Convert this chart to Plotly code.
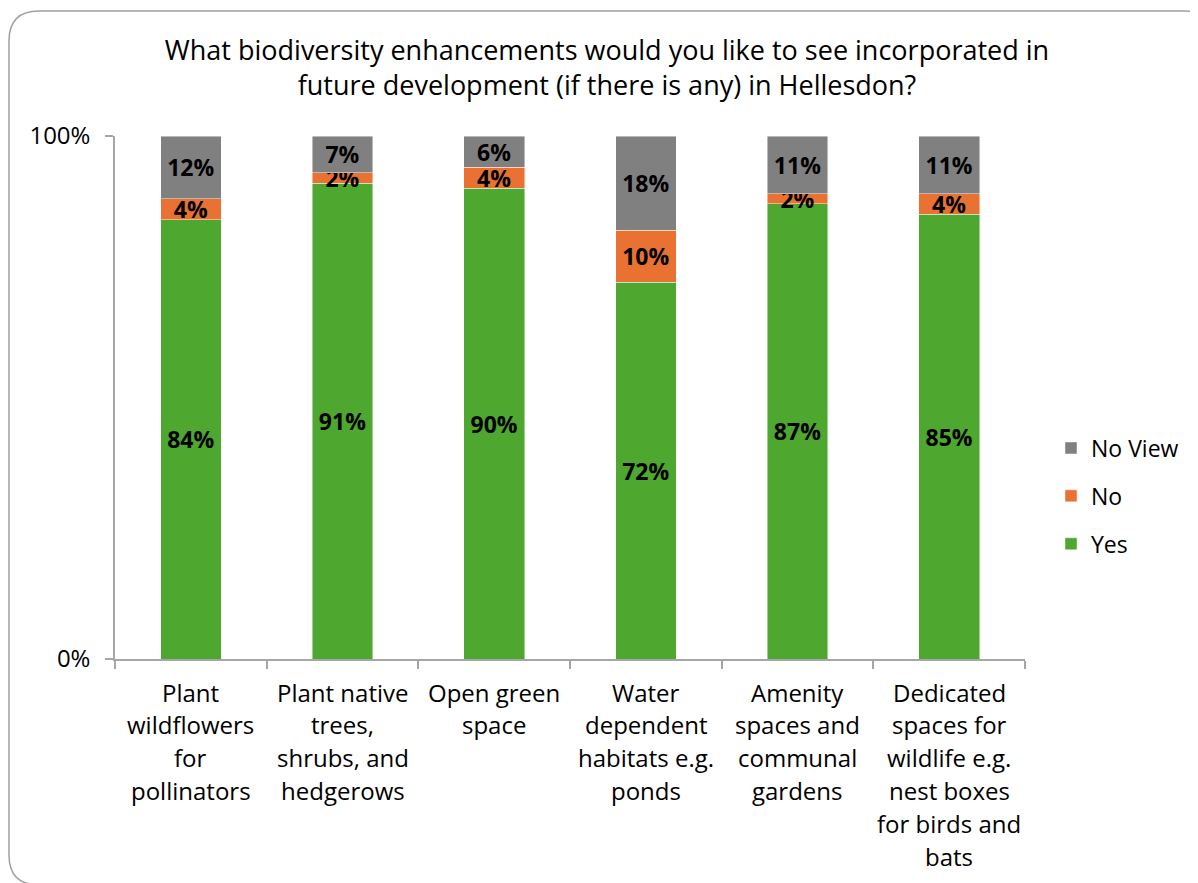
import plotly.graph_objects as go

categories = [
    "Plant<br>wildflowers<br>for<br>pollinators",
    "Plant native<br>trees,<br>shrubs, and<br>hedgerows",
    "Open green<br>space",
    "Water<br>dependent<br>habitats e.g.<br>ponds",
    "Amenity<br>spaces and<br>communal<br>gardens",
    "Dedicated<br>spaces for<br>wildlife e.g.<br>nest boxes<br>for birds and<br>bats",
]
cat_keys = ["c%d" % i for i in range(len(categories))]
yes_vals = [84, 91, 90, 72, 87, 85]
no_vals = [4, 2, 4, 10, 2, 4]
noview_vals = [12, 7, 6, 18, 11, 11]
y_ticks = [0, 100]
y_tick_labels = ["0%", "100%"]

W, H = 1198, 883
OFF = 8  # page body margin


def px(x):
    return (x - OFF) / W


def py(y):
    return 1 - (y - OFF) / H


FONT = "Open Sans"
GREEN = "#4EA72E"
ORANGE = "#E97132"
GRAY = "#808080"
AXIS = "#A6A6A6"

fig = go.Figure()
series = [("Yes", yes_vals, GREEN, 3), ("No", no_vals, ORANGE, 2), ("No View", noview_vals, GRAY, 1)]
for name, vals, col, rank in series:
    fig.add_trace(go.Bar(
        x=cat_keys, y=vals, name=name,
        marker=dict(color=col, line=dict(color="rgba(255,255,255,0.6)", width=0.75)),
        text=["%d%%" % v for v in vals],
        textposition="inside", insidetextanchor="middle",
        textangle=0, constraintext="none",
        textfont=dict(family=FONT, size=23, color="black", weight="bold"),
        legendgroup=name, legendrank=rank, hoverinfo="skip",
    ))

# category labels as annotations (Excel-like line spacing)
for key, lab in zip(cat_keys, categories):
    for j, line in enumerate(lab.split("<br>")):
        fig.add_annotation(
            x=key, xref="x", y=py(692 + j * 32.8), yref="paper",
            text=line, showarrow=False, yanchor="middle", xanchor="center",
            font=dict(family=FONT, size=24, color="black"),
        )

# rounded frame
x0, y0, x1, y1, r = 9, 11, 1216, 885, 30
path = (f"M {px(x0)},{py(y0 + r)} Q {px(x0)},{py(y0)} {px(x0 + r)},{py(y0)} "
        f"L {px(x1 - r)},{py(y0)} Q {px(x1)},{py(y0)} {px(x1)},{py(y0 + r)} "
        f"L {px(x1)},{py(y1 - r)} Q {px(x1)},{py(y1)} {px(x1 - r)},{py(y1)} "
        f"L {px(x0 + r)},{py(y1)} Q {px(x0)},{py(y1)} {px(x0)},{py(y1 - r)} Z")
fig.add_shape(type="path", path=path, xref="paper", yref="paper",
              line=dict(color="#A0A0A0", width=1.5), layer="below")

xdom = [px(115), px(1025)]
ydom = [py(659), py(136)]
n = len(categories)

fig.update_layout(
    width=W, height=H,
    margin=dict(l=0, r=0, t=0, b=0, autoexpand=False),
    paper_bgcolor="white", plot_bgcolor="white",
    barmode="stack", bargap=0.6,
    uniformtext=dict(minsize=22, mode="show"),
    title=dict(
        text="What biodiversity enhancements would you like to see incorporated in<br>future development (if there is any) in Hellesdon?",
        x=px(607), xanchor="center", y=py(60), yanchor="middle",
        font=dict(family=FONT, size=27, color="black"),
    ),
    xaxis=dict(
        domain=xdom, automargin=False,
        showticklabels=False, tickson="boundaries", ticks="outside", ticklen=8,
        tickcolor=AXIS, tickwidth=1.5, showline=True, linecolor=AXIS, linewidth=1.5,
        showgrid=False, zeroline=False,
    ),
    xaxis2=dict(
        overlaying="x", anchor="y", domain=xdom, type="linear", range=[-0.5, n - 0.5],
        tickvals=list(range(n)), ticks="inside", ticklen=6, tickcolor=AXIS, tickwidth=1.5,
        showticklabels=False, showline=False, showgrid=False, zeroline=False, automargin=False,
    ),
    xaxis3=dict(
        overlaying="x", anchor="y", domain=xdom, type="linear", range=[-0.5, n - 0.5],
        tickvals=[i - 0.5 for i in range(n + 1)], ticks="inside", ticklen=8, tickcolor=AXIS, tickwidth=1.5,
        showticklabels=False, showline=False, showgrid=False, zeroline=False, automargin=False,
    ),
    yaxis=dict(
        domain=ydom, range=[0, 100], automargin=False,
        tickvals=y_ticks, ticktext=y_tick_labels, ticks="outside", ticklen=8,
        tickcolor=AXIS, tickwidth=1.5, showline=True, linecolor=AXIS, linewidth=1.5,
        showgrid=False, zeroline=False, ticklabelstandoff=10,
        tickfont=dict(family=FONT, size=24, color="black"),
    ),
    yaxis2=dict(
        overlaying="y", anchor="x", domain=ydom, range=[0, 100], type="linear",
        tickvals=y_ticks, ticks="inside", ticklen=8, tickcolor=AXIS, tickwidth=1.5,
        showticklabels=False, showline=False, showgrid=False, zeroline=False, automargin=False,
    ),
    legend=dict(
        x=px(1051), xanchor="left", y=py(496), yanchor="middle",
        traceorder="grouped", tracegroupgap=15,
        font=dict(family=FONT, size=23, color="black"),
        bgcolor="rgba(0,0,0,0)",
    ),
    font=dict(family=FONT),
)

fig.write_html("out.html")
